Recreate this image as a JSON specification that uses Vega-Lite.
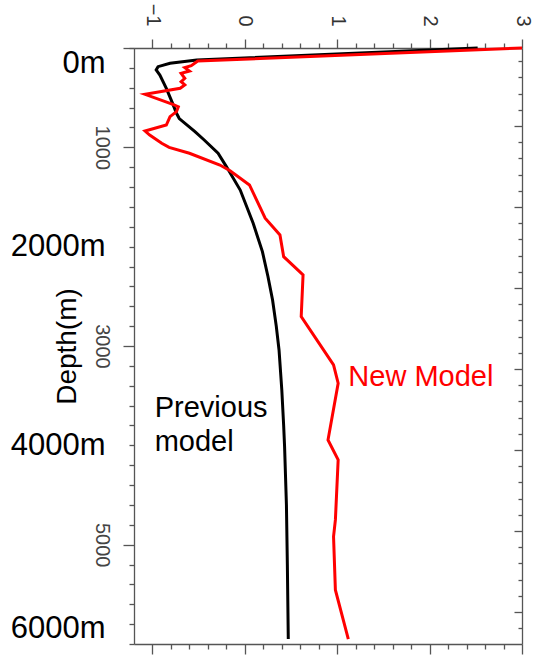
{
  "$schema": "https://vega.github.io/schema/vega-lite/v6.json",
  "autosize": "none",
  "width": 388,
  "height": 596,
  "padding": {"left": 134, "top": 48, "right": 11, "bottom": 26},
  "background": "white",
  "config": {
    "view": {"stroke": null},
    "axis": {
      "grid": false,
      "domainColor": "#555",
      "domainWidth": 1.3,
      "tickColor": "#555",
      "tickWidth": 1.3,
      "labelFont": "Liberation Sans",
      "titleFont": "Liberation Sans",
      "labelColor": "#333",
      "labelOverlap": false
    }
  },
  "datasets": {
    "previous": [
      {"depth": 0, "value": 2.52},
      {"depth": 121, "value": -0.52},
      {"depth": 154, "value": -0.81},
      {"depth": 188, "value": -0.94},
      {"depth": 221, "value": -0.96},
      {"depth": 272, "value": -0.92},
      {"depth": 406, "value": -0.85},
      {"depth": 540, "value": -0.79},
      {"depth": 657, "value": -0.74},
      {"depth": 710, "value": -0.71},
      {"depth": 842, "value": -0.54},
      {"depth": 926, "value": -0.44},
      {"depth": 1060, "value": -0.29},
      {"depth": 1194, "value": -0.2},
      {"depth": 1430, "value": -0.05},
      {"depth": 1765, "value": 0.09},
      {"depth": 2050, "value": 0.19},
      {"depth": 2300, "value": 0.25},
      {"depth": 2537, "value": 0.3},
      {"depth": 2800, "value": 0.34},
      {"depth": 3040, "value": 0.37},
      {"depth": 3443, "value": 0.4},
      {"depth": 3800, "value": 0.42},
      {"depth": 4013, "value": 0.43},
      {"depth": 4600, "value": 0.45},
      {"depth": 5200, "value": 0.46},
      {"depth": 5950, "value": 0.47}
    ],
    "newmodel": [
      {"depth": 0, "value": 3.0},
      {"depth": 131, "value": -0.51},
      {"depth": 178, "value": -0.58},
      {"depth": 198, "value": -0.65},
      {"depth": 232, "value": -0.6},
      {"depth": 255, "value": -0.69},
      {"depth": 305, "value": -0.65},
      {"depth": 339, "value": -0.69},
      {"depth": 372, "value": -0.65},
      {"depth": 406, "value": -0.7},
      {"depth": 466, "value": -1.08},
      {"depth": 567, "value": -0.78},
      {"depth": 591, "value": -0.72},
      {"depth": 641, "value": -0.74},
      {"depth": 691, "value": -0.81},
      {"depth": 775, "value": -0.85},
      {"depth": 836, "value": -1.08},
      {"depth": 876, "value": -1.03},
      {"depth": 959, "value": -0.9},
      {"depth": 1000, "value": -0.82},
      {"depth": 1060, "value": -0.6},
      {"depth": 1178, "value": -0.27},
      {"depth": 1235, "value": -0.16},
      {"depth": 1379, "value": 0.05},
      {"depth": 1714, "value": 0.22},
      {"depth": 1883, "value": 0.38},
      {"depth": 2101, "value": 0.42},
      {"depth": 2285, "value": 0.63},
      {"depth": 2705, "value": 0.61},
      {"depth": 3191, "value": 0.96},
      {"depth": 3375, "value": 1.01},
      {"depth": 3946, "value": 0.9},
      {"depth": 4147, "value": 1.01},
      {"depth": 4751, "value": 0.98},
      {"depth": 4919, "value": 0.96},
      {"depth": 5456, "value": 0.98},
      {"depth": 5950, "value": 1.12}
    ]
  },
  "resolve": {"axis": {"x": "independent", "y": "independent"}},
  "layer": [
    {
      "data": {"name": "previous"},
      "mark": {"type": "line", "color": "#000000", "strokeWidth": 3, "clip": false},
      "encoding": {
        "order": {"field": "depth", "type": "quantitative"},
        "x": {
          "field": "value", "type": "quantitative",
          "scale": {"domain": [-1.2, 3], "nice": false, "zero": false},
          "axis": {
            "orient": "top", "values": [-1, 0, 1, 2, 3], "tickSize": 9,
            "labelAngle": 90, "labelAlign": "right", "labelBaseline": "middle",
            "labelFontSize": 20, "labelPadding": 13, "title": null
          }
        },
        "y": {
          "field": "depth", "type": "quantitative",
          "scale": {"domain": [0, 6000], "nice": false, "zero": false, "reverse": true},
          "axis": {
            "orient": "left", "values": [0, 1000, 3000, 5000], "tickSize": 11,
            "format": "d",
            "labelExpr": "datum.value == 0 ? '' : datum.label",
            "labelAngle": 90, "labelAlign": "center", "labelBaseline": "top",
            "labelFontSize": 20, "labelColor": "#444", "labelPadding": 12,
            "title": "Depth(m)", "titleFontSize": 28, "titleFontWeight": "normal",
            "titleColor": "#000", "titlePadding": 10
          }
        }
      }
    },
    {
      "data": {"name": "newmodel"},
      "mark": {"type": "line", "color": "#ff0000", "strokeWidth": 3, "clip": false},
      "encoding": {
        "order": {"field": "depth", "type": "quantitative"},
        "x": {
          "field": "value", "type": "quantitative",
          "scale": {"domain": [-1.2, 3], "nice": false, "zero": false},
          "axis": {
            "orient": "top",
            "values": [-0.8, -0.6, -0.4, -0.2, 0.2, 0.4, 0.6, 0.8, 1.2, 1.4, 1.6, 1.8, 2.2, 2.4, 2.6, 2.8],
            "tickSize": 5, "labels": false, "domain": false, "title": null
          }
        },
        "y": {
          "field": "depth", "type": "quantitative",
          "scale": {"domain": [0, 6000], "nice": false, "zero": false, "reverse": true},
          "axis": {
            "orient": "left",
            "values": [0, 200, 400, 600, 800, 1200, 1400, 1600, 1800, 2000, 2200, 2400, 2600, 2800, 3200, 3400, 3600, 3800, 4000, 4200, 4400, 4600, 4800, 5200, 5400, 5600, 5800, 6000],
            "tickSize": 5, "domain": false,
            "labelExpr": "datum.value % 2000 == 0 ? datum.value + 'm' : ''",
            "labelFontSize": 31, "labelColor": "#000", "labelAlign": "right",
            "labelFlush": true, "labelFlushOffset": 0, "labelPadding": 24,
            "title": null
          }
        }
      }
    },
    {
      "data": {"values": [{"series": "Previous model"}]},
      "mark": {
        "type": "text", "text": ["Previous", "model"], "align": "left",
        "baseline": "alphabetic", "font": "Liberation Sans", "fontSize": 29,
        "lineHeight": 34, "color": "#000000"
      },
      "encoding": {
        "x": {
          "datum": -0.976, "type": "quantitative",
          "scale": {"domain": [-1.2, 3], "nice": false, "zero": false},
          "axis": {
            "orient": "bottom", "values": [-1, 0, 1, 2, 3], "tickSize": 10,
            "labels": false, "title": null
          }
        },
        "y": {
          "datum": 3711, "type": "quantitative",
          "scale": {"domain": [0, 6000], "nice": false, "zero": false, "reverse": true},
          "axis": {
            "orient": "right",
            "values": [785, 1601, 2416, 3232, 4047, 4863, 5678],
            "tickSize": -8, "labels": false, "title": null
          }
        }
      }
    },
    {
      "data": {"values": [{"series": "New Model"}]},
      "mark": {
        "type": "text", "text": "New Model", "align": "left",
        "baseline": "alphabetic", "font": "Liberation Sans", "fontSize": 29,
        "color": "#ff0000"
      },
      "encoding": {
        "x": {
          "datum": 1.12, "type": "quantitative",
          "scale": {"domain": [-1.2, 3], "nice": false, "zero": false},
          "axis": {
            "orient": "bottom",
            "values": [-0.8, -0.6, -0.4, -0.2, 0.2, 0.4, 0.6, 0.8, 1.2, 1.4, 1.6, 1.8, 2.2, 2.4, 2.6, 2.8],
            "tickSize": 5, "labels": false, "domain": false, "title": null
          }
        },
        "y": {
          "datum": 3403, "type": "quantitative",
          "scale": {"domain": [0, 6000], "nice": false, "zero": false, "reverse": true},
          "axis": {
            "orient": "right",
            "values": [133, 296, 459, 622, 948, 1111, 1275, 1438, 1764, 1927, 2090, 2253, 2579, 2742, 2905, 3069, 3395, 3558, 3721, 3884, 4210, 4373, 4536, 4700, 5026, 5189, 5352, 5515, 5841],
            "tickSize": -4, "labels": false, "domain": false, "title": null
          }
        }
      }
    }
  ]
}
